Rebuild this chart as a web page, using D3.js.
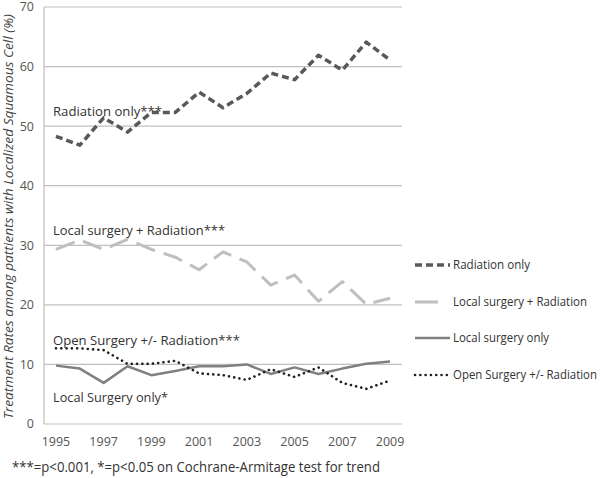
<!DOCTYPE html>
<html>
<head>
<meta charset="utf-8">
<script src="https://cdnjs.cloudflare.com/ajax/libs/d3/7.8.5/d3.min.js"></script>
<style>
body { margin: 0; background: #fff; }
text { font-family: "Open Sans", "Noto Sans", sans-serif; }
</style>
</head>
<body>
<script>
var years = [1995,1996,1997,1998,1999,2000,2001,2002,2003,2004,2005,2006,2007,2008,2009];
var yearTicks = [1995,1997,1999,2001,2003,2005,2007,2009];
var yTicks = [0,10,20,30,40,50,60,70];

var radiationOnly = [48.3,46.8,51.4,49.0,52.3,52.3,55.7,53.1,55.5,58.9,57.8,61.9,59.4,64.1,61.1];
var localSurgRad = [29.3,30.9,29.3,31.0,29.3,28.0,25.9,28.9,27.2,23.3,25.0,20.6,23.9,20.1,21.1];
var localSurgOnly = [9.8,9.3,6.9,9.7,8.2,8.9,9.7,9.7,10.0,8.4,9.5,8.4,9.3,10.1,10.5];
var openSurg = [12.7,12.7,12.4,10.1,10.1,10.6,8.5,8.2,7.4,9.2,7.9,9.5,6.9,5.9,7.3];

var seriesNames = ["Radiation only","Local surgery + Radiation","Local surgery only","Open Surgery +/- Radiation"];
var inlineLabels = ["Radiation only***","Local surgery + Radiation***","Open Surgery +/- Radiation***","Local Surgery only*"];

var width = 600, height = 478;
var margin = {top: 7, left: 44, right: 198, bottom: 54};
var w = width - margin.left - margin.right,
    h = height - margin.top - margin.bottom;

var svg = d3.select("body").append("svg")
    .attr("width", width)
    .attr("height", height);
var g = svg.append("g").attr("transform", "translate(" + margin.left + "," + margin.top + ")");

var x = d3.scaleBand().domain(years).range([0, w]);
var y = d3.scaleLinear().domain([0, 70]).range([h, 0]);
var cx = function (d) { return x(d) + x.bandwidth() / 2; };

// gridlines
g.selectAll(".grid").data(yTicks.filter(function (d) { return d > 0; }))
    .enter().append("line")
    .attr("x1", 0).attr("x2", w)
    .attr("y1", function (d) { return y(d); })
    .attr("y2", function (d) { return y(d); })
    .attr("stroke", "#bfbfbf").attr("stroke-width", 1.2);

// axes lines
g.append("line").attr("x1", 0).attr("x2", w).attr("y1", h).attr("y2", h)
    .attr("stroke", "#bfbfbf").attr("stroke-width", 1.2);
g.append("line").attr("x1", 0).attr("x2", 0).attr("y1", 0).attr("y2", h)
    .attr("stroke", "#bfbfbf").attr("stroke-width", 1.2);

g.selectAll(".ytick").data(yTicks).enter().append("text")
    .attr("x", -10).attr("y", function (d) { return y(d); })
    .attr("dy", "0.35em")
    .attr("text-anchor", "end")
    .attr("font-size", 12.5).attr("fill", "#555")
    .text(function (d) { return d; });

g.selectAll(".xtick").data(yearTicks).enter().append("text")
    .attr("x", cx).attr("y", h + 22)
    .attr("text-anchor", "middle")
    .attr("font-size", 12.5).attr("fill", "#555")
    .text(function (d) { return d; });

svg.append("text")
    .attr("transform", "translate(13," + (margin.top + h / 2 + 1) + ")rotate(-90)")
    .attr("text-anchor", "middle")
    .attr("font-size", 12.5).attr("font-style", "italic").attr("fill", "#444")
    .attr("textLength", 405).attr("lengthAdjust", "spacingAndGlyphs")
    .text("Treatment Rates among pattients with Localized Squamous Cell (%)");

var styles = [
    {color: "#595959", width: 3.5, dash: "7,4", cap: "butt"},
    {color: "#bfbfbf", width: 3, dash: "20,9", cap: "butt"},
    {color: "#808080", width: 2.5, dash: null, cap: "butt"},
    {color: "#222", width: 2.6, dash: "0.1,5.2", cap: "round"}
];
var allSeries = [radiationOnly, localSurgRad, localSurgOnly, openSurg];

var line = d3.line()
    .x(function (d, i) { return cx(years[i]); })
    .y(function (d) { return y(d); });

allSeries.forEach(function (s, i) {
    g.append("path")
        .datum(s)
        .attr("d", line)
        .attr("fill", "none")
        .attr("stroke", styles[i].color)
        .attr("stroke-width", styles[i].width)
        .attr("stroke-dasharray", styles[i].dash)
        .attr("stroke-linecap", styles[i].cap)
        .attr("stroke-linejoin", "round");
});

// labels inside the plot
var labelY = [111, 230, 340, 397];
var labelW = [109, 172, 187, 115];
svg.selectAll(".inlab").data(inlineLabels).enter().append("text")
    .attr("x", 53).attr("y", function (d, i) { return labelY[i]; })
    .attr("dy", "0.35em")
    .attr("font-size", 13.5).attr("fill", "#333")
    .attr("textLength", function (d, i) { return labelW[i]; })
    .attr("lengthAdjust", "spacingAndGlyphs")
    .text(function (d) { return d; });

// legend
var legY = [265, 302, 338, 375];
var legLine = [[415, 450], [415, 438], [415, 450], [415, 450]];
var legW = [77, 134, 96, 144];
var leg = svg.selectAll(".leg").data(seriesNames).enter().append("g");
leg.append("line")
    .attr("x1", function (d, i) { return legLine[i][0]; })
    .attr("x2", function (d, i) { return legLine[i][1]; })
    .attr("y1", function (d, i) { return legY[i]; })
    .attr("y2", function (d, i) { return legY[i]; })
    .attr("stroke", function (d, i) { return styles[i].color; })
    .attr("stroke-width", function (d, i) { return styles[i].width; })
    .attr("stroke-dasharray", function (d, i) { return i == 1 ? null : styles[i].dash; })
    .attr("stroke-linecap", function (d, i) { return styles[i].cap; });
leg.append("text")
    .attr("x", 453)
    .attr("y", function (d, i) { return legY[i]; })
    .attr("dy", "0.35em")
    .attr("font-size", 12.5).attr("fill", "#333")
    .attr("textLength", function (d, i) { return legW[i]; })
    .attr("lengthAdjust", "spacingAndGlyphs")
    .text(function (d) { return d; });

svg.append("text")
    .attr("x", 12).attr("y", 467).attr("dy", "0.35em")
    .attr("font-size", 14).attr("fill", "#333")
    .attr("textLength", 368).attr("lengthAdjust", "spacingAndGlyphs")
    .text("***=p<0.001, *=p<0.05 on Cochrane-Armitage test for trend");
</script>
</body>
</html>
